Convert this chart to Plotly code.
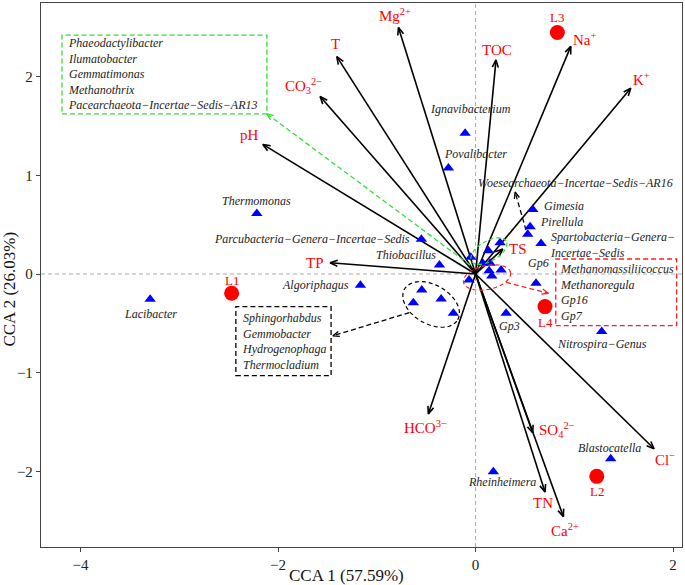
import numpy as np
import plotly.graph_objects as go

# ---------------- data ----------------
site_names = ["L1", "L2", "L3", "L4"]
site_x = [-2.47, 1.227, 0.828, 0.703]
site_y = [-0.195, -2.05, 2.447, -0.33]

species_names = ["Lacibacter", "Thermomonas", "Parcubacteria−Genera−Incertae−Sedis", "Thiobacillus",
                 "Algoriphagus", "Ignavibacterium", "Povalibacter", "Woesearchaeota−Incertae−Sedis−AR16",
                 "Gimesia", "Pirellula", "Spartobacteria−Genera−<br>Incertae−Sedis", "Gp6", "Gp3",
                 "Nitrospira−Genus", "Blastocatella", "Rheinheimera"]
species_x = [-3.295, -2.215, -0.549, -0.366, -1.166, -0.106, -0.275, 0.528,
             0.579, 0.552, 0.663, 0.612, 0.309, 1.277, 1.368, 0.18]
species_y = [-0.255, 0.613, 0.351, 0.091, -0.114, 1.427, 1.074, 0.404,
             0.654, 0.478, 0.31, -0.094, -0.397, -0.583, -1.872, -2.003]

green_group_names = ["Phaeodactylibacter", "Ilumatobacter", "Gemmatimonas", "Methanothrix",
                     "Pacearchaeota−Incertae−Sedis−AR13"]
green_group_x = [-0.049, 0.13, 0.248, 0.073, 0.147]
green_group_y = [0.169, 0.235, 0.316, 0.108, 0.108]

black_group_names = ["Sphingorhabdus", "Gemmobacter", "Hydrogenophaga", "Thermocladium"]
black_group_x = [-0.545, -0.63, -0.349, -0.225]
black_group_y = [-0.162, -0.29, -0.253, -0.397]

red_group_names = ["Methanomassiliicoccus", "Methanoregula", "Gp16", "Gp7"]
red_group_x = [0.137, 0.258, 0.164, -0.066]
red_group_y = [0.033, 0.04, -0.02, -0.061]

env_names = ["Mg<sup>2+</sup>", "T", "CO<sub>3</sub><sup>2−</sup>", "pH", "TOC", "Na<sup>+</sup>",
             "K<sup>+</sup>", "TS", "TP", "HCO<sup>3−</sup>", "SO<sub>4</sub><sup>2−</sup>", "TN",
             "Ca<sup>2+</sup>", "Cl<sup>−</sup>"]
env_x = [-0.781, -1.405, -1.574, -2.154, 0.207, 0.964, 1.571, 0.275, -1.473, -0.478, 0.579, 0.703, 0.889, 1.807]
env_y = [2.498, 2.202, 1.798, 1.313, 2.169, 2.306, 1.882, 0.253, 0.114, -1.417, -1.609, -2.209, -2.458, -1.771]

x_title = "CCA 1 (57.59%)"
y_title = "CCA 2 (26.03%)"
x_ticks = [-4, -2, 0, 2]
y_ticks = [-2, -1, 0, 1, 2]

# ---------------- styling / layout ----------------
FONT = "Liberation Serif"
W, H = 685, 585
ML, MR, MT, MB = 41, 3, 3, 38
XR = [-4.40, 2.09]
YR = [-2.766, 2.746]
pw, ph = W - ML - MR, H - MT - MB
sx = pw / (XR[1] - XR[0])
sy = ph / (YR[1] - YR[0])

env_shift = [(-3, 12), (-1, 13), (-17, 11), (-13, 9), (1, 10), (14, 7), (11, 9), (15, 0),
             (-15, 0), (-3, -13), (24, 3), (-2, -11), (2, -13), (11, -10)]
species_pos = [("center", 0, -15), ("center", 0, 13), ("right", -9, 0), ("right", -1, 10),
               ("right", -9, 0), ("center", 5, 24), ("center", 27, 14), ("center", 48, 51),
               ("left", 9, 3), ("left", 8, 5), ("left", 7, -2), ("center", 2, 20),
               ("center", 3, -13), ("center", 0, -12), ("center", -1, 11), ("center", 9, -10)]
site_shift = [13, -15, 15, -16]


def head(x0, y0, x1, y1, size=8, ang=22):
    dxp, dyp = (x1 - x0) * sx, (y1 - y0) * sy
    L = np.hypot(dxp, dyp)
    ux, uy = -dxp / L, -dyp / L
    pts = []
    for a in (np.radians(ang), -np.radians(ang)):
        wx = ux * np.cos(a) - uy * np.sin(a)
        wy = ux * np.sin(a) + uy * np.cos(a)
        pts.append((x1 + wx * size / sx, y1 + wy * size / sy))
    return [pts[0][0], x1, pts[1][0], None], [pts[0][1], y1, pts[1][1], None]


def ellipse_path(cx, cy, a, b, ang):
    t = np.linspace(0, 2 * np.pi, 60)
    th = np.radians(ang)
    px = a * np.cos(t) * np.cos(th) - b * np.sin(t) * np.sin(th)
    py = a * np.cos(t) * np.sin(th) + b * np.sin(t) * np.cos(th)
    xs, ys = cx + px / sx, cy + py / sy
    d = "M " + " L ".join(f"{x:.4f},{y:.4f}" for x, y in zip(xs, ys)) + " Z"
    return d


fig = go.Figure()

# environmental arrows
ax_, ay_ = [], []
for ex, ey in zip(env_x, env_y):
    ax_ += [0, ex, None]
    ay_ += [0, ey, None]
    hx, hy = head(0, 0, ex, ey)
    ax_ += hx
    ay_ += hy
fig.add_trace(go.Scatter(x=ax_, y=ay_, mode="lines", line=dict(color="black", width=1.6),
                         hoverinfo="skip", showlegend=False))

GREEN = "#33e033"
REDD = "#ff2020"

# dashed connector arrows (group -> box)
connectors = [
    ((-0.056, 0.091), (-2.113, 1.623), GREEN),
    ((-0.67, -0.391), (-1.445, -0.626), "black"),
    ((0.309, -0.084), (0.737, -0.195), REDD),
    ((0.511, 0.444), (0.40, 0.831), "black"),
]
for (x0, y0), (x1, y1), col in connectors:
    fig.add_trace(go.Scatter(x=[x0, x1], y=[y0, y1], mode="lines",
                             line=dict(color=col, width=1.3, dash="5px,3px"),
                             hoverinfo="skip", showlegend=False))
    hx, hy = head(x0, y0, x1, y1, size=7)
    fig.add_trace(go.Scatter(x=hx, y=hy, mode="lines", line=dict(color=col, width=1.3),
                             hoverinfo="skip", showlegend=False))

# species triangles
all_sx = species_x + green_group_x + black_group_x + red_group_x
all_sy = species_y + green_group_y + black_group_y + red_group_y
fig.add_trace(go.Scatter(x=all_sx, y=all_sy, mode="markers",
                         marker=dict(symbol="triangle-up", size=10, color="#0000ff"),
                         hoverinfo="skip", showlegend=False))

# sites
fig.add_trace(go.Scatter(x=site_x, y=site_y, mode="markers",
                         marker=dict(symbol="circle", size=15, color="#ff0000"),
                         hoverinfo="skip", showlegend=False))

ann = []
for n, x, y, (xs_, ys_) in zip(env_names, env_x, env_y, env_shift):
    ann.append(dict(x=x, y=y, xref="x", yref="y", text=n, showarrow=False, xshift=xs_, yshift=ys_,
                    font=dict(family=FONT, size=15, color="#ff0000")))
for n, x, y, (anc, xs_, ys_) in zip(species_names, species_x, species_y, species_pos):
    ann.append(dict(x=x, y=y, xref="x", yref="y", text="<i>" + n + "</i>", showarrow=False,
                    xanchor=anc, xshift=xs_, yshift=ys_, align="left",
                    font=dict(family=FONT, size=12, color="#222222")))
for n, x, y, ys_ in zip(site_names, site_x, site_y, site_shift):
    ann.append(dict(x=x, y=y, xref="x", yref="y", text=n, showarrow=False, yshift=ys_,
                    font=dict(family=FONT, size=13, color="#ff0000")))

# group boxes
boxes = [
    (green_group_names, (-4.188, 1.623, -2.113, 2.421), GREEN, -4.145),
    (black_group_names, (-2.427, -1.03, -1.463, -0.33), "black", -2.39),
    (red_group_names, (0.812, -0.522, 2.036, 0.152), REDD, 0.835),
]
shapes = []
for names, (x0, y0, x1, y1), col, tx in boxes:
    shapes.append(dict(type="rect", xref="x", yref="y", x0=x0, y0=y0, x1=x1, y1=y1,
                       line=dict(color=col, width=1.3, dash="5px,3px")))
    ann.append(dict(x=tx, y=(y0 + y1) / 2, xref="x", yref="y", xanchor="left", yanchor="middle",
                    align="left", showarrow=False,
                    text="<br>".join("<i>" + n + "</i>" for n in names),
                    font=dict(family=FONT, size=12, color="#222222")))

# ellipses around groups
shapes.append(dict(type="path", xref="x", yref="y", path=ellipse_path(-0.45, -0.308, 30.7, 19.5, -30),
                   line=dict(color="black", width=1.2, dash="4px,3px")))
shapes.append(dict(type="path", xref="x", yref="y", path=ellipse_path(0.116, -0.035, 24, 12, 12),
                   line=dict(color=REDD, width=1.2, dash="4px,3px")))
shapes.append(dict(type="path", xref="x", yref="y", path=ellipse_path(0.134, 0.232, 20, 10, 30),
                   line=dict(color=GREEN, width=1.2, dash="4px,3px")))

# reference lines at 0
shapes.append(dict(type="line", xref="x", yref="y", x0=0, x1=0, y0=YR[0], y1=YR[1], layer="below",
                   line=dict(color="#aaaaaa", width=1, dash="4px,3px")))
shapes.append(dict(type="line", xref="x", yref="y", x0=XR[0], x1=XR[1], y0=0, y1=0, layer="below",
                   line=dict(color="#aaaaaa", width=1, dash="4px,3px")))

# axis titles
ann.append(dict(x=0.477, y=-0.053, xref="paper", yref="paper", text=x_title, showarrow=False,
                xanchor="center", yanchor="middle", font=dict(family=FONT, size=17, color="#111")))
ann.append(dict(x=-0.0484, y=0.475, xref="paper", yref="paper", text=y_title, showarrow=False,
                textangle=-90, xanchor="center", yanchor="middle",
                font=dict(family=FONT, size=17, color="#111")))

axis_common = dict(showgrid=False, zeroline=False, showline=True, mirror=True, linecolor="#444",
                   linewidth=1.3, ticks="outside", ticklen=4, tickcolor="#444", automargin=False,
                   tickfont=dict(family=FONT, size=15, color="#222"))
fig.update_layout(
    width=W, height=H, margin=dict(l=ML, r=MR, t=MT, b=MB),
    paper_bgcolor="white", plot_bgcolor="white",
    xaxis=dict(range=XR, tickvals=x_ticks, ticktext=["−4", "−2", "0", "2"], **axis_common),
    yaxis=dict(range=YR, tickvals=y_ticks, ticktext=["−2", "−1", "0", "1", "2"], **axis_common),
    shapes=shapes, annotations=ann, showlegend=False,
)
fig.write_html("out.html", config={"displayModeBar": False},
               post_script="document.body.style.margin='0';document.body.style.overflow='hidden';")
